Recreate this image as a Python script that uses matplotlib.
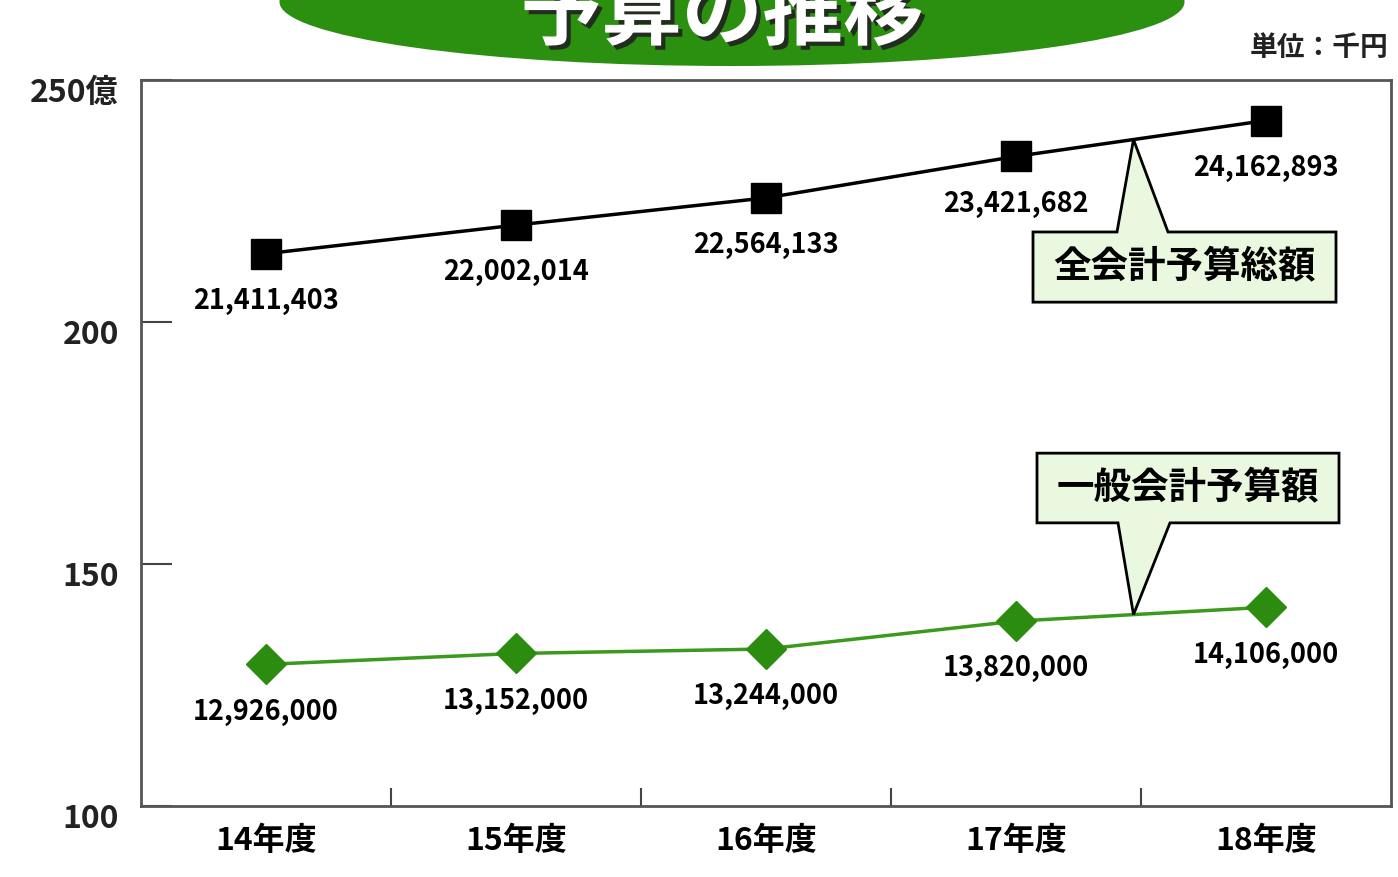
import numpy as np
import matplotlib
matplotlib.use('Agg')
import matplotlib.pyplot as plt
import matplotlib.patheffects as pe
import matplotlib.transforms as mtransforms
from matplotlib.patches import Ellipse, Polygon

plt.rcParams['font.family'] = ['Noto Sans CJK JP', 'DejaVu Sans']

# data (千円)
years = ['14年度', '15年度', '16年度', '17年度', '18年度']
total_budget = [21411403, 22002014, 22564133, 23421682, 24162893]   # 全会計予算総額
general_budget = [12926000, 13152000, 13244000, 13820000, 14106000]  # 一般会計予算額
yticks = [100, 150, 200, 250]
ytick_labels = ['100', '150', '200', '250億']

# convert to 億円
total_oku = np.array(total_budget) / 100000
general_oku = np.array(general_budget) / 100000
x = np.arange(len(years))

fig = plt.figure(figsize=(13.98, 8.77), dpi=100)
ax = fig.add_axes([141/1398, 71/877, 1250/1398, 726/877])

ax.plot(x, total_oku, color='black', lw=2.5, marker='s', markersize=21, zorder=3)
ax.plot(x, general_oku, color='#3a9a1c', lw=2.5, marker='D', markersize=20,
        markerfacecolor='#2b8c10', markeredgecolor='#2b8c10', zorder=3)

# value labels under each point
for xi, v, y in zip(x, total_budget, total_oku):
    ax.annotate(f'{v:,}', (xi, y), xytext=(0, -24), textcoords='offset points',
                ha='center', va='top', fontsize=19.5, fontweight='bold')
for xi, v, y in zip(x, general_budget, general_oku):
    ax.annotate(f'{v:,}', (xi, y), xytext=(0, -24), textcoords='offset points',
                ha='center', va='top', fontsize=19.5, fontweight='bold')

ax.set_xlim(-0.5, len(years) - 0.5)
ax.set_ylim(100, 250)
ax.set_xticks(x)
ax.set_xticklabels(years, fontsize=23, fontweight='bold')
ax.set_xticks(x[:-1] + 0.5, minor=True)
ax.tick_params(axis='x', which='major', length=0, pad=14)
ax.tick_params(axis='x', which='minor', direction='in', length=13, width=1.5, color='#444')
ax.set_yticks(yticks)
ax.set_yticklabels(ytick_labels, fontsize=23, fontweight='bold', color='#222')
ax.tick_params(axis='y', direction='in', length=22, width=1.5, color='#444', pad=16)
shift = mtransforms.ScaledTranslation(0, -0.09, fig.dpi_scale_trans)
for lab in ax.get_yticklabels():
    lab.set_transform(lab.get_transform() + shift)
for s in ax.spines.values():
    s.set_color('#555')
    s.set_linewidth(2)


def callout(bx0, bx1, by0, by1, px0, px1, tip, up):
    # box with a pointed tail going to the line
    if up:
        pts = [(bx0, by0), (bx0, by1), (px0, by1), tip, (px1, by1), (bx1, by1), (bx1, by0)]
    else:
        pts = [(bx0, by1), (bx0, by0), (px0, by0), tip, (px1, by0), (bx1, by0), (bx1, by1)]
    ax.add_patch(Polygon(pts, closed=True, facecolor='#e9f8df', edgecolor='black',
                         lw=2, zorder=4))


tx = 3.47
callout(3.068, 4.28, 204.1, 218.6, 3.404, 3.608, (tx, np.interp(tx, x, total_oku)), True)
ax.text((3.068 + 4.28) / 2, (204.1 + 218.6) / 2, '全会計予算総額', ha='center', va='center',
        fontsize=27, fontweight='bold', zorder=5)
callout(3.084, 4.292, 158.5, 172.9, 3.408, 3.616, (tx, np.interp(tx, x, general_oku)), False)
ax.text((3.084 + 4.292) / 2, (158.5 + 172.9) / 2, '一般会計予算額', ha='center', va='center',
        fontsize=27, fontweight='bold', zorder=5)

# title banner (cut off at the top, as in the original)
fig.patches.append(Ellipse((732/1398, 1 - 2/877), 905/1398, 128/877,
                           transform=fig.transFigure, facecolor='#2b8f10', edgecolor='none'))
fig.text(722/1398, 1 - 15/877, '予算の推移', ha='center', va='center', fontsize=58,
         fontweight='bold', color='white',
         path_effects=[pe.SimplePatchShadow(offset=(3, -3), shadow_rgbFace='#222', alpha=0.9),
                       pe.Normal()])
fig.text(1388/1398, 1 - 48/877, '単位：千円', ha='right', va='center', fontsize=20,
         fontweight='bold', color='#222')

fig.savefig('out.png', dpi=100)
